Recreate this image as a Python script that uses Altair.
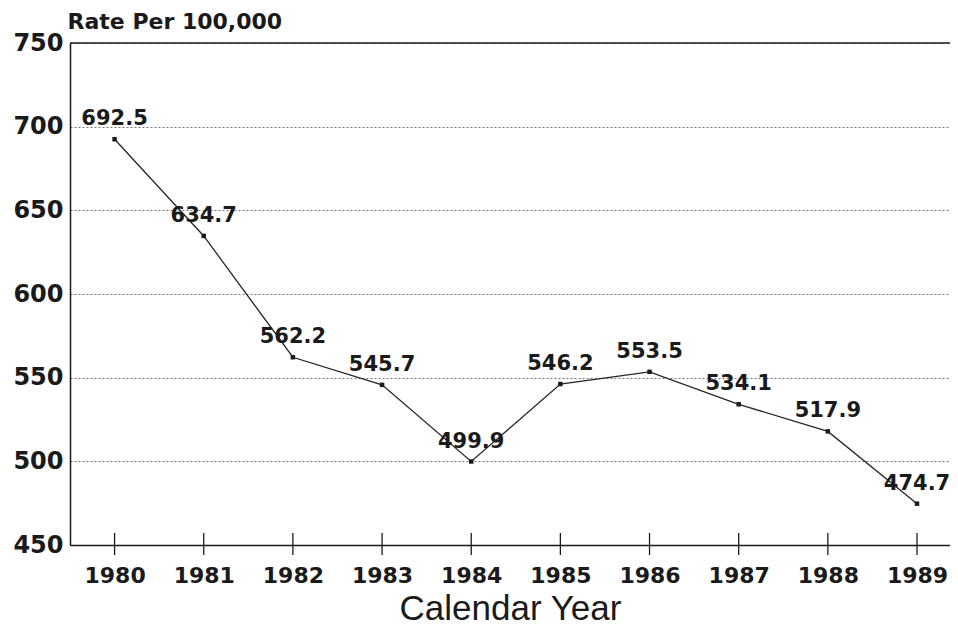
import altair as alt
import pandas as pd

years = [1980, 1981, 1982, 1983, 1984, 1985, 1986, 1987, 1988, 1989]
rates = [692.5, 634.7, 562.2, 545.7, 499.9, 546.2, 553.5, 534.1, 517.9, 474.7]
labels = ["692.5", "634.7", "562.2", "545.7", "499.9", "546.2", "553.5", "534.1", "517.9", "474.7"]
y_ticks = [450, 500, 550, 600, 650, 700, 750]

df = pd.DataFrame({"year": years, "rate": rates, "label": labels})

W, H = 880, 502
INK = "#1a1a1a"
BOLD = "DejaVu Sans"

x_scale = alt.Scale(domain=[1979.5, 1989.37], nice=False, zero=False)
y_scale = alt.Scale(domain=[450, 750], nice=False, zero=False)

x_axis = alt.Axis(
    values=years, format="d", title="Calendar Year",
    labelFont=BOLD, labelFontWeight="bold", labelFontSize=22, labelColor=INK,
    labelPadding=20, tickSize=0, domain=True, domainColor=INK, domainWidth=1.5,
    grid=False, titleFont="Liberation Sans", titleFontWeight="normal",
    titleFontSize=35, titleColor=INK, titlePadding=5,
)
y_axis = alt.Axis(
    values=y_ticks, title="Rate Per 100,000", titleAngle=0, titleAlign="left",
    titleBaseline="alphabetic", titleX=-3, titleY=-15,
    titleFont=BOLD, titleFontWeight="bold", titleFontSize=22, titleColor=INK,
    labelFont=BOLD, labelFontWeight="bold", labelFontSize=24, labelColor=INK,
    labelPadding=7, tickSize=0, domain=True, domainColor=INK, domainWidth=1.5,
    grid=True, gridDash=[2, 2], gridColor="#666", gridWidth=0.9,
)

base = alt.Chart(df)

line = base.mark_line(color="#262626", strokeWidth=1.3).encode(
    x=alt.X("year:Q", scale=x_scale, axis=x_axis),
    y=alt.Y("rate:Q", scale=y_scale, axis=y_axis),
)
pts = base.mark_point(shape="square", filled=True, size=20, color="#1a1a1a", opacity=1).encode(
    x=alt.X("year:Q", scale=x_scale),
    y=alt.Y("rate:Q", scale=y_scale),
)
txt = base.mark_text(font=BOLD, fontWeight="bold", fontSize=21, color=INK,
                     baseline="middle", align="center", dy=-20).encode(
    x=alt.X("year:Q", scale=x_scale),
    y=alt.Y("rate:Q", scale=y_scale),
    text="label:N",
)
ticks = base.mark_rule(color=INK, strokeWidth=1.3).encode(
    x=alt.X("year:Q", scale=x_scale),
    y=alt.value(H - 12),
    y2=alt.value(H + 10),
)
top = alt.Chart(pd.DataFrame({"v": [750]})).mark_rule(color=INK, strokeWidth=1.7).encode(
    y=alt.Y("v:Q", scale=y_scale),
    x=alt.value(0),
    x2=alt.value(W),
)

chart = alt.layer(top, line, pts, ticks, txt).properties(
    width=W, height=H,
    autosize=alt.AutoSizeParams(type="none"),
    padding={"left": 62, "top": 35, "right": 0, "bottom": 80},
    background="white",
).configure_view(stroke=None)

chart.save("out.html", embed_options={"renderer": "svg", "actions": False})
